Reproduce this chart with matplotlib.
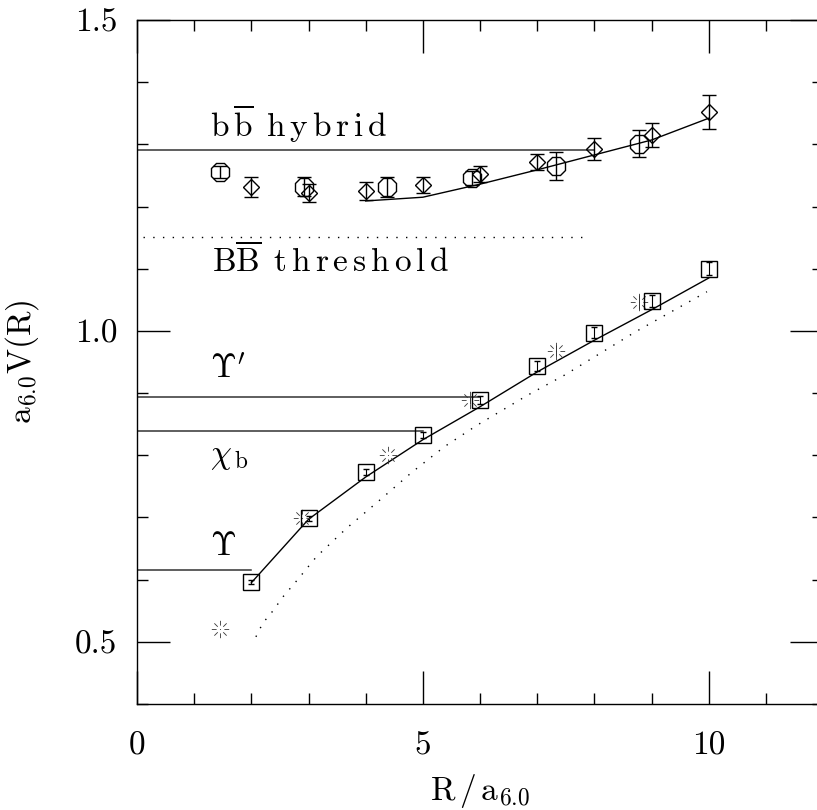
import numpy as np
import matplotlib
matplotlib.use('Agg')
import matplotlib.pyplot as plt
from matplotlib.path import Path
from matplotlib.ticker import MultipleLocator

plt.rcParams['font.family'] = 'serif'
plt.rcParams['font.serif'] = ['cmr10', 'DejaVu Serif']
plt.rcParams['mathtext.fontset'] = 'cm'
plt.rcParams['axes.formatter.use_mathtext'] = True

# ground state potential (squares) and fit line
sq_x = [2, 3, 4, 5, 6, 7, 8, 9, 10]
sq_y = [0.596, 0.699, 0.773, 0.833, 0.889, 0.944, 0.997, 1.048, 1.100]
sq_err = [0.003, 0.004, 0.005, 0.005, 0.007, 0.008, 0.009, 0.0095, 0.0105]
sq_fit_x = [2, 3, 4, 5, 6, 7, 8, 9, 10]
sq_fit_y = [0.595, 0.697, 0.765, 0.825, 0.878, 0.934, 0.985, 1.034, 1.085]

# off-axis ground state (bursts)
st_x = [1.45, 2.88, 4.39, 5.82, 7.33, 8.78]
st_y = [0.521, 0.699, 0.801, 0.889, 0.968, 1.047]
st_err = [0.0, 0.0, 0.0, 0.006, 0.009, 0.011]

# dotted curve
dot_x = [2.08, 2.2, 2.38, 2.55, 2.81, 3.14, 3.67, 4.21, 4.8, 5.38, 5.96, 6.84, 7.48, 8.71, 9.97]
dot_y = [0.508, 0.530, 0.550, 0.572, 0.600, 0.637, 0.683, 0.725, 0.772, 0.814, 0.849, 0.897, 0.929, 0.998, 1.063]

# hybrid potential: diamonds, octagons, line
di_x = [2, 3, 4, 5, 6, 7, 8, 9, 10]
di_y = [1.232, 1.222, 1.225, 1.235, 1.252, 1.272, 1.293, 1.315, 1.352]
di_err = [0.016, 0.015, 0.014, 0.013, 0.013, 0.013, 0.018, 0.020, 0.027]
oc_x = [1.45, 2.92, 4.37, 5.86, 7.33, 8.79]
oc_y = [1.256, 1.232, 1.232, 1.246, 1.265, 1.301]
oc_err = [0.010, 0.015, 0.016, 0.011, 0.022, 0.022]
hy_x = [4, 5, 6, 7, 8, 9, 10]
hy_y = [1.209, 1.215, 1.236, 1.259, 1.283, 1.307, 1.342]

# level lines: (y, x_end, label, label_y)
levels = [
  (1.291, 8.0, r'$\mathrm{b\,\overline{b}\ \,h\,y\,b\,r\,i\,d}$', 1.312),
  (0.894, 6.0, r"$\Upsilon'$", 0.924),
  (0.839, 5.0, r'$\chi_{\,\mathrm{b}}$', 0.788),
  (0.616, 2.0, r'$\Upsilon$', 0.640),
]
thr_y = 1.151
thr_x = [0.1, 7.9]
thr_label = r'$\mathrm{B\overline{B}\ \,t\,h\,r\,e\,s\,h\,o\,l\,d}$'
thr_label_y = 1.095

x_ticks = [0, 5, 10]
x_ticklabels = ['0', '5', '10']
y_ticks = [0.5, 1.0, 1.5]
y_ticklabels = ['0.5', '1.0', '1.5']

# burst marker: 8 rays around a centre dot
verts = [(-0.06, 0.0), (0.06, 0.0)]
codes = [Path.MOVETO, Path.LINETO]
for a in np.deg2rad(np.arange(0, 360, 45)):
  verts += [(0.45 * np.cos(a), 0.45 * np.sin(a)), (np.cos(a), np.sin(a))]
  codes += [Path.MOVETO, Path.LINETO]
burst = Path(verts, codes)

fig = plt.figure(figsize=(8.17, 8.10), dpi=100)
ax = fig.add_axes([137/817, 106/810, 686/817, 684/810])

fs = 24
lc = '#333333'

for y, xe, lab, ly in levels:
  ax.plot([0, xe], [y, y], color=lc, lw=1.1)
  ax.text(1.28, ly, lab, fontsize=fs, va='baseline')
ax.plot(thr_x, [thr_y, thr_y], color='k', lw=1.0, ls=(0, (1, 6)))
ax.text(1.31, thr_label_y, thr_label, fontsize=fs, va='baseline')

ax.plot(dot_x, dot_y, color='k', lw=1.0, ls=(0, (1, 6)))
ax.plot(sq_fit_x, sq_fit_y, color='k', lw=1.0)
ax.plot(hy_x, hy_y, color='k', lw=1.0)

ax.errorbar(sq_x, sq_y, yerr=sq_err, fmt='s', ms=12, mfc='none', mec='k', mew=1.0,
            ecolor='k', elinewidth=0.8, capsize=2)
ax.errorbar(st_x, st_y, yerr=st_err, fmt='none', ecolor='#333333', elinewidth=0.7, capsize=0)
ax.plot(st_x, st_y, ls='none', marker=burst, ms=12.5, mfc='none', mec='#333333', mew=0.6)
ax.errorbar(di_x, di_y, yerr=di_err, fmt='D', ms=8.6, mfc='none', mec='k', mew=1.0,
            ecolor='k', elinewidth=1.0, capsize=5)
ax.errorbar(oc_x, oc_y, yerr=oc_err, fmt='8', ms=13.5, mfc='none', mec='k', mew=1.0,
            ecolor='k', elinewidth=1.0, capsize=5)

ax.set_xlim(0, 12)
ax.set_ylim(0.4, 1.5)
ax.set_xticks(x_ticks, labels=x_ticklabels)
ax.set_yticks(y_ticks, labels=y_ticklabels)
ax.xaxis.set_minor_locator(MultipleLocator(1))
ax.yaxis.set_minor_locator(MultipleLocator(0.1))
ax.tick_params(which='both', direction='in', top=True, right=True, width=1.0, labelsize=fs)
ax.tick_params(which='major', length=24)
ax.tick_params(which='minor', length=8)
ax.tick_params(axis='x', pad=20)
ax.tick_params(axis='y', pad=14)
for s in ax.spines.values():
  s.set_linewidth(1.0)

ax.set_xlabel(r'$\mathrm{R\,/\,a_{6.0}}$', fontsize=fs)
ax.xaxis.set_label_coords(0.5, -0.1)
ax.set_ylabel(r'$\mathrm{a_{6.0}V(R)}$', fontsize=fs)
ax.yaxis.set_label_coords(-0.14, 0.5)

fig.savefig('out.png', dpi=100)
